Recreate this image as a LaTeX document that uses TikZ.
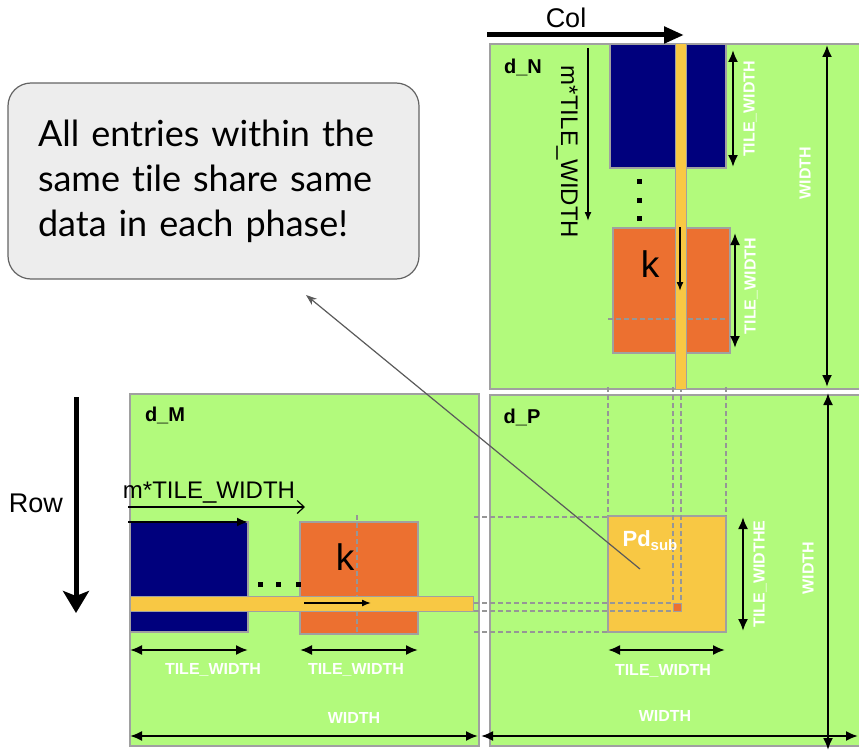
\documentclass[tikz,border=0pt]{standalone}
\usepackage{fontspec}
\setmainfont{Liberation Sans}
\newfontfamily\latofont[Ligatures={NoCommon}]{Lato}
\usetikzlibrary{arrows.meta}

\definecolor{panelgreen}{RGB}{178,250,124}
\definecolor{tileblue}{RGB}{0,0,125}
\definecolor{tileorange}{RGB}{236,112,48}
\definecolor{stripyellow}{RGB}{248,200,68}
\definecolor{edgegray}{RGB}{160,160,160}
\definecolor{dashgray}{RGB}{150,150,150}
\definecolor{calloutfill}{RGB}{237,237,237}
\definecolor{calloutedge}{RGB}{100,100,100}
\definecolor{pointergray}{RGB}{90,90,90}

\begin{document}
\begin{tikzpicture}[x=1pt,y=-1pt,
  panel/.style={draw=edgegray, line width=1.5pt, fill=panelgreen},
  tile/.style={draw=edgegray, line width=1.2pt},
  strip/.style={draw=edgegray, line width=1pt, fill=stripyellow},
  guide/.style={draw=dashgray, line width=1.2pt, dash pattern=on 5pt off 3pt},
  dim/.style={line width=2pt, {Latex[length=12pt,width=10pt]}-{Latex[length=12pt,width=10pt]}},
  bigarrow/.style={line width=5pt},
  flow/.style={line width=1.5pt, -{Latex[length=9pt,width=7pt]}},
  dimlabel/.style={text=white, font=\bfseries\fontsize{16}{16}\selectfont, inner sep=0pt},
  matname/.style={font=\bfseries\fontsize{20}{20}\selectfont, inner sep=0pt},
  plain/.style={font=\fontsize{24}{24}\selectfont, inner sep=0pt},
  bigword/.style={font=\fontsize{27}{27}\selectfont, inner sep=0pt},
  kidx/.style={font=\fontsize{37}{37}\selectfont, inner sep=0pt},
  dotmark/.style={fill=black},
  callout/.style={draw=calloutedge, line width=1.2pt, fill=calloutfill,
    rounded corners=23pt, minimum width=411pt, minimum height=196pt,
    text width=351pt, align=left, inner sep=0pt,
    font=\latofont\fontsize{36}{45}\selectfont}]

\useasboundingbox (0,0) rectangle (859,752);
\clip (0,0) rectangle (859,752);

% ---------- panels ----------
\path[panel] (490,44) rectangle (866,389);
\path[panel] (490,395) rectangle (866,746);
\path[panel] (130,394) rectangle (479,746);

% ---------- d_N tiles ----------
\path[tile, fill=tileblue] (610,44) rectangle (726,168);
\path[tile, fill=tileorange] (613,228) rectangle (730,353);
\draw[guide] (608,319) -- (727,319);
\foreach \y in {181,200,218} \fill[dotmark] (636.5,\y-2.5) rectangle ++(5,5);

% ---------- d_M tiles ----------
\path[tile, fill=tileblue] (130,522) rectangle (248,632);
\path[tile, fill=tileorange] (300,522) rectangle (418,634);
\draw[guide] (357,515) -- (357,632);
\foreach \x in {260,278,298} \fill[dotmark] (\x-2.5,581.5) rectangle ++(5,5);

% ---------- d_P tile ----------
\path[tile, fill=stripyellow] (608,516) rectangle (726,632);

% ---------- guide lines between matrices ----------
\draw[guide] (608,387) -- (608,516);
\draw[guide] (726,387) -- (726,516);
\draw[guide] (673,387) -- (673,603);
\draw[guide] (681,387) -- (681,603);
\draw[guide] (474,517) -- (608,517);
\draw[guide] (474,632) -- (608,632);
\draw[guide] (474,603) -- (673,603);
\draw[guide] (474,611) -- (673,611);
\path[draw=edgegray, line width=1pt, fill=tileorange] (673,603) rectangle (681,611);

% ---------- row / column strips ----------
\path[strip] (675,44) rectangle (686,389);
\path[strip] (130,596) rectangle (473,611);

% ---------- big direction arrows ----------
\coordinate (colA) at (487,35);
\coordinate (colB) at (684,35);
\draw[bigarrow, -{Triangle[length=20pt,width=16pt]}] (colA) -- (colB);
\node[bigword] (colT) at (566,18) {Col};
\coordinate (rowA) at (76,397);
\coordinate (rowB) at (76,613);
\draw[bigarrow, -{Stealth[length=22pt,width=26pt,inset=5pt]}] (rowA) -- (rowB);
\node[bigword] (rowT) at (36,503) {Row};

% ---------- d_N annotations ----------
\node[matname] (nN) at (523,67) {d\_N};
\coordinate (mnA) at (588,48);
\coordinate (mnB) at (588,221);
\draw[flow] (mnA) -- (mnB);
\node[plain, rotate=-90] (mnT) at (567,152) {m*TILE\_WIDTH};
\node[kidx] (kN) at (650,264) {k};
\coordinate (snA) at (680,227);
\coordinate (snB) at (680,291);
\draw[flow] (snA) -- (snB);
\coordinate (tn1a) at (733,50);  \coordinate (tn1b) at (733,167);
\draw[dim] (tn1a) -- (tn1b);
\node[dimlabel, rotate=90] (tn1) at (750,109) {TILE\_WIDTH};
\coordinate (tn2a) at (735,233); \coordinate (tn2b) at (735,348);
\draw[dim] (tn2a) -- (tn2b);
\node[dimlabel, rotate=90] (tn2) at (751,286) {TILE\_WIDTH};
\coordinate (wnA) at (827,45); \coordinate (wnB) at (827,387);
\draw[dim] (wnA) -- (wnB);
\node[dimlabel, rotate=90] (wn) at (805,173) {WIDTH};

% ---------- d_M annotations ----------
\node[matname] (nM) at (165,415) {d\_M};
\node[plain] (mmT) at (209,493) {m*TILE\_WIDTH};
\coordinate (mmA) at (128,507); \coordinate (mmB) at (305,507);
\draw[line width=1.2pt, -{Straight Barb[length=7pt,width=13pt]}] (mmA) -- (mmB);
\coordinate (tmA) at (128,522); \coordinate (tmB) at (248,522);
\draw[line width=2pt, -{Latex[length=11pt,width=9pt]}] (tmA) -- (tmB);
\node[kidx] (kM) at (345,557) {k};
\coordinate (smA) at (304,603); \coordinate (smB) at (371,603);
\draw[flow] (smA) -- (smB);
\coordinate (tm1a) at (130,650); \coordinate (tm1b) at (248,650);
\draw[dim] (tm1a) -- (tm1b);
\node[dimlabel] (tm1) at (213,670) {TILE\_WIDTH};
\coordinate (tm2a) at (300,650); \coordinate (tm2b) at (418,650);
\draw[dim] (tm2a) -- (tm2b);
\node[dimlabel] (tm2) at (356,670) {TILE\_WIDTH};
\coordinate (wmA) at (130,736); \coordinate (wmB) at (478,736);
\draw[dim] (wmA) -- (wmB);
\node[dimlabel] (wm) at (354,718) {WIDTH};

% ---------- d_P annotations ----------
\node[matname] (nP) at (522,417) {d\_P};
\node[text=white, font=\bfseries\fontsize{22}{22}\selectfont, inner sep=0pt] (pd) at (650,541)
  {Pd\raisebox{-0.35ex}{\fontsize{15}{15}\selectfont sub}};
\coordinate (tp1a) at (743,517); \coordinate (tp1b) at (743,631);
\draw[dim] (tp1a) -- (tp1b);
\node[dimlabel, rotate=90] (tp1) at (760,574) {TILE\_WIDTHE};
\coordinate (tp2a) at (608,650); \coordinate (tp2b) at (725,650);
\draw[dim] (tp2a) -- (tp2b);
\node[dimlabel] (tp2) at (663,671) {TILE\_WIDTH};
\coordinate (wpA) at (481,736); \coordinate (wpB) at (858,736);
\draw[dim] (wpA) -- (wpB);
\node[dimlabel] (wp1) at (665,716) {WIDTH};
\coordinate (wvA) at (828,393); \coordinate (wvB) at (828,750);
\draw[dim] (wvA) -- (wvB);
\node[dimlabel, rotate=90] (wp2) at (808,568) {WIDTH};

% ---------- callout ----------
\node[callout] (note) at (213.5,181)
  {All entries within the\\same tile share same\\data in each phase!};
\coordinate (pdPoint) at (640,569);
\coordinate (noteTip) at (306,295);
\draw[pointergray, line width=1.2pt, -{Stealth[length=11pt,width=8pt]}] (pdPoint) -- (noteTip);

\end{tikzpicture}
\end{document}
